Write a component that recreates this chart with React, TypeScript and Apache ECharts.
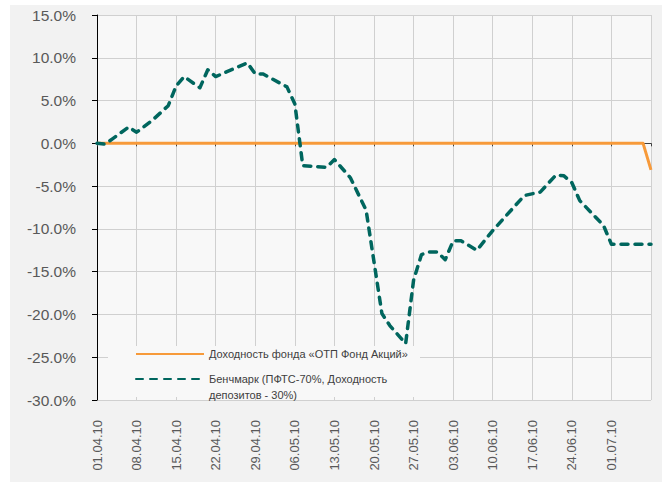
import React, { useEffect, useRef } from 'react';
import * as echarts from 'echarts';

// x = trading-day index (0 = 01.04.10, five trading days per week)
const tickLabels = ['01.04.10', '08.04.10', '15.04.10', '22.04.10', '29.04.10', '06.05.10', '13.05.10', '20.05.10', '27.05.10', '03.06.10', '10.06.10', '17.06.10', '24.06.10', '01.07.10'];

const fundName = 'Доходность фонда «ОТП Фонд Акций»';
const benchName = 'Бенчмарк (ПФТС-70%, Доходность депозитов - 30%)';
const benchLegendLines = ['Бенчмарк (ПФТС-70%, Доходность', 'депозитов - 30%)'];

const fundDays = [0, 69, 70];
const fundValues = [0, 0, -3.1];

const benchDays = [0, 1, 2, 4, 5, 7, 9, 10, 11, 13, 14, 15, 19, 20, 21, 24, 25, 26, 29, 30, 32, 34, 36, 37, 39, 40, 41, 42, 43, 44, 45, 46, 48, 50, 54, 56, 58, 59, 60, 61, 64, 65, 70];
const benchValues = [0.0, -0.1, 0.55, 1.9, 1.3, 2.7, 4.4, 6.7, 7.8, 6.5, 8.6, 7.8, 9.4, 8.1, 8.1, 6.6, 4.6, -2.6, -2.8, -1.9, -4.0, -7.8, -19.9, -21.3, -23.4, -16.0, -13.0, -12.7, -12.7, -13.6, -11.4, -11.4, -12.5, -10.2, -6.1, -5.7, -3.7, -3.8, -4.6, -6.7, -9.6, -11.8, -11.8];

const yMin = -30;
const yMax = 15;
const yStep = 5;
const xMax = 70;
const xStep = 5;

const FONT = '"Liberation Sans", Arial, sans-serif';

export default function App() {
  const ref = useRef<HTMLDivElement>(null);
  useEffect(() => {
    document.body.style.margin = '0';
    const chart = echarts.init(ref.current!, null, { renderer: 'svg' });
    const pairs = (xs: number[], ys: number[]) => xs.map((x, i) => [x, ys[i]]);
    chart.setOption({
      animation: false,
      backgroundColor: '#ffffff',
      graphic: [
        { type: 'rect', z: -100, silent: true, shape: { x: 10, y: 5, width: 652, height: 477 }, style: { fill: '#f2f2f2' } },
        { type: 'rect', z: 1, silent: true, shape: { x: 108, y: 346, width: 312, height: 51 }, style: { fill: '#f8f8f8' } },
      ],
      grid: { left: 97, top: 15, right: 11, bottom: 83, show: true, backgroundColor: '#f8f8f8', borderWidth: 0 },
      legend: {
        orient: 'vertical',
        left: 135,
        top: 346,
        padding: 0,
        itemGap: -7,
        itemWidth: 68,
        itemHeight: 14,
        itemStyle: { opacity: 0 },
        textStyle: { fontSize: 11, color: '#404040', fontFamily: FONT, lineHeight: 16 },
        formatter: (name: string) => (name === benchName ? '\n' + benchLegendLines.join('\n') : name),
        data: [{ name: fundName }, { name: benchName }],
      },
      xAxis: [
        {
          type: 'value',
          min: 0,
          max: xMax,
          interval: xStep,
          position: 'bottom',
          axisLine: { show: false, onZero: false },
          axisTick: { show: false },
          axisLabel: {
            rotate: 90,
            margin: 20,
            fontSize: 13,
            color: '#595959',
            fontFamily: FONT,
            padding: [8, 0, 0, 0],
            showMaxLabel: true,
            formatter: (v: number) => tickLabels[Math.round(v / xStep)] ?? '',
          },
          splitLine: { show: true, lineStyle: { color: '#d0d0d0', width: 1 } },
        },
        {
          type: 'value',
          min: 0,
          max: xMax,
          interval: xStep,
          position: 'bottom',
          axisLine: { show: true, onZero: true, lineStyle: { color: '#404040', width: 1 } },
          axisTick: { show: true, length: 3, lineStyle: { color: '#404040' } },
          axisLabel: { show: false },
          splitLine: { show: false },
        },
      ],
      yAxis: {
        type: 'value',
        min: yMin,
        max: yMax,
        interval: yStep,
        axisLine: { show: true, lineStyle: { color: '#000000', width: 1 } },
        axisTick: { show: true, length: 5, lineStyle: { color: '#000000' } },
        axisLabel: {
          margin: 21,
          fontSize: 15.5,
          color: '#595959',
          fontFamily: FONT,
          formatter: (v: number) => v.toFixed(1) + '%',
        },
        splitLine: { show: true, lineStyle: { color: '#d0d0d0', width: 1 } },
      },
      series: [
        {
          name: fundName,
          type: 'line',
          xAxisIndex: 0,
          data: pairs(fundDays, fundValues),
          symbol: 'none',
          lineStyle: { color: '#F79A3A', width: 3, join: 'round' },
          itemStyle: { color: '#F79A3A' },
          z: 3,
        },
        {
          name: benchName,
          type: 'line',
          xAxisIndex: 0,
          data: pairs(benchDays, benchValues),
          symbol: 'none',
          lineStyle: { color: '#00665E', width: 3.5, type: [7, 7], cap: 'round', join: 'round' },
          itemStyle: { color: '#00665E' },
          z: 4,
        },
      ],
    });
    return () => chart.dispose();
  }, []);
  return <div ref={ref} style={{ width: 662, height: 483 }} />;
}
